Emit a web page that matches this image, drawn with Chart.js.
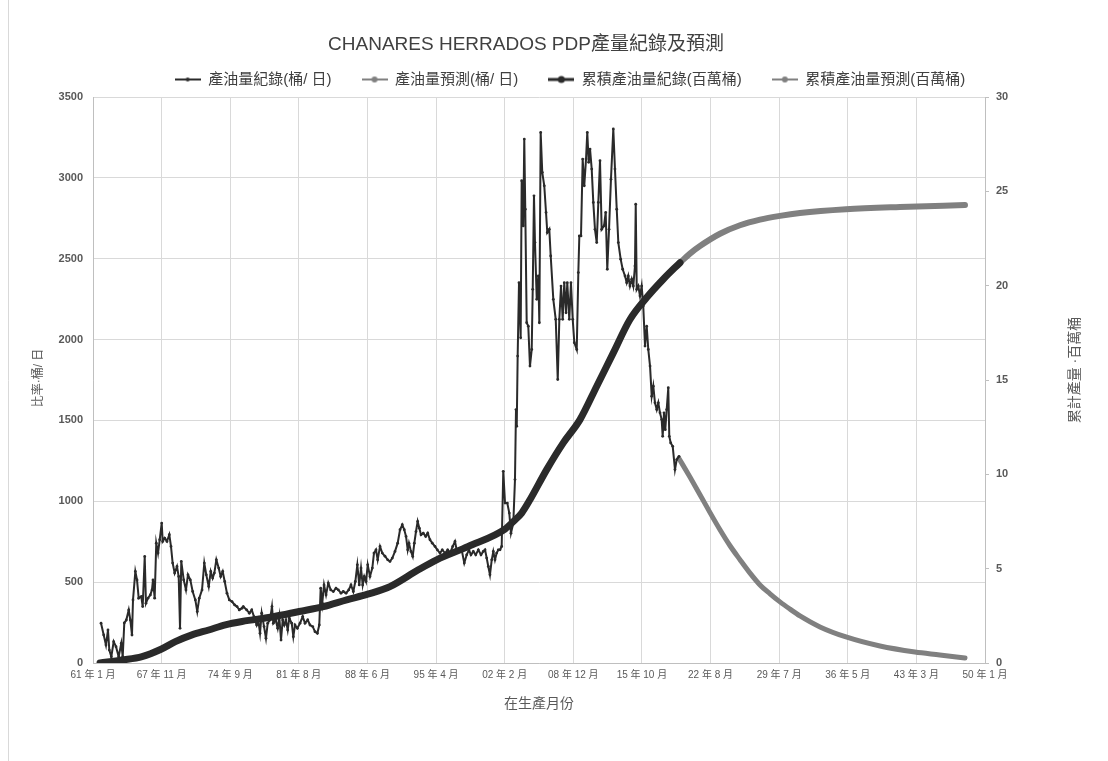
<!DOCTYPE html>
<html>
<head>
<meta charset="utf-8">
<script src="https://cdn.jsdelivr.net/npm/chart.js@4/dist/chart.umd.min.js"></script>
<style>
  html, body { margin: 0; padding: 0; background: #fff; }
  canvas { display: block; }
</style>
</head>
<body>
<canvas id="chart" width="1108" height="761"></canvas>
<script>
// Texts
const chartTitle = 'CHANARES HERRADOS PDP產量紀錄及預測';
const xAxisTitle = '在生產月份';
const yAxisTitle = '比率·桶/ 日';
const y2AxisTitle = '累計產量 ·百萬桶';
const seriesNames = ['產油量紀錄(桶/ 日)', '產油量預測(桶/ 日)', '累積產油量紀錄(百萬桶)', '累積產油量預測(百萬桶)'];

// X axis: months counted from January 1961, one label every 82 months
const xTickLabels = ['61 年 1 月', '67 年 11 月', '74 年 9 月', '81 年 8 月', '88 年 6 月', '95 年 4 月', '02 年 2 月',
  '08 年 12 月', '15 年 10 月', '22 年 8 月', '29 年 7 月', '36 年 5 月', '43 年 3 月', '50 年 1 月'];

// Oil rate history (bbl/day)
const rateHistMonths = [9.6,12.8,15.5,17.9,19.5,21.9,24.7,27.5,30.7,33.8,35.5,37.4,39.8,42.7,44.6,46.6,47.8,50.6,52.6,54.6,
  57.7,59.4,61.8,63.3,65.7,68.5,70.5,71.7,73.7,75.6,77.7,79.7,82.1,83.3,85.7,88.4,91.2,93.2,95.2,97.6,
  100.4,102.4,104.0,105.5,108.4,111.1,113.5,116.3,119.1,122.3,124.6,127.0,130.3,133.0,135.4,138.3,140.7,143.0,145.0,147.4,
  150.2,152.6,155.0,157.4,160.1,162.9,166.1,169.3,172.1,174.8,178.1,179.6,183.7,186.8,189.7,192.4,195.6,197.5,199.6,201.6,
  204.4,206.7,208.8,211.5,213.9,215.5,218.3,220.7,222.6,224.7,226.7,228.6,230.6,232.7,234.6,237.5,239.4,241.4,244.2,247.4,
  250.6,253.4,256.6,259.3,262.6,265.3,268.1,270.4,272.1,274.0,276.1,278.5,281.2,284.1,287.2,290.4,293.2,296.4,299.1,302.4,
  305.6,308.3,311.1,313.5,315.9,318.2,320.3,322.3,324.2,326.3,328.3,331.0,333.8,335.8,338.2,340.2,343.0,345.7,349.0,352.2,
  354.9,357.7,360.9,364.1,366.9,369.6,372.0,374.1,376.1,377.6,380.0,382.1,384.0,386.0,388.0,390.0,392.0,394.7,397.6,400.0,
  402.7,405.5,408.7,411.5,414.7,417.4,420.7,423.9,426.6,429.9,432.6,434.6,437.4,440.6,443.7,446.6,449.3,451.7,454.5,457.4,
  460.5,463.7,466.4,468.5,470.5,472.4,474.4,476.5,478.4,480.4,482.4,484.4,486.4,488.4,490.3,492.4,495.1,497.5,499.5,502.3,
  504.3,505.5,506.4,507.5,509.1,511.1,512.3,514.2,515.4,516.6,518.3,520.2,522.2,524.3,525.5,527.0,528.2,530.3,532.2,533.4,
  535.0,536.9,539.3,541.4,542.9,545.3,547.0,550.1,553.0,555.4,557.3,559.3,561.3,563.2,565.3,566.8,569.2,571.2,573.3,575.2,
  578.1,580.0,581.2,583.2,585.2,587.1,589.2,590.7,592.4,594.0,596.0,597.9,599.9,602.0,603.9,605.9,607.9,610.7,612.7,614.6,
  616.7,619.0,621.8,623.8,625.9,627.8,630.6,633.0,635.8,637.8,639.7,641.7,643.8,645.7,647.7,648.6,649.8,651.7,653.7,655.7,
  657.6,659.7,661.7,663.6,665.7,667.7,669.6,671.6,673.7,675.6,677.6,679.6,680.8,682.4,683.9,685.6,687.5,688.7,690.4,692.8,
  695.5,697.6,700.3];
const rateHistValues = [246,173,111,204,80,39,132,101,39,122,39,248,266,328,266,173,390,566,514,401,
  411,349,659,370,401,421,452,514,401,741,680,762,865,752,772,752,793,721,618,556,
  597,535,215,628,514,452,545,514,442,390,318,401,452,618,545,473,566,525,556,638,
  587,535,566,504,432,390,380,359,349,328,339,349,328,308,328,287,235,266,184,308,
  225,153,246,266,349,246,266,215,287,142,266,235,266,204,277,246,163,235,215,246,
  287,246,266,235,225,194,184,235,463,370,483,421,494,452,442,463,452,432,442,432,
  452,483,442,504,607,483,587,483,535,504,607,535,587,680,700,638,721,680,660,638,
  628,649,690,741,824,855,824,783,700,741,690,659,741,813,875,834,793,803,783,803,
  762,741,721,700,680,700,680,700,680,721,752,700,690,700,618,669,700,669,690,669,
  700,669,690,700,649,597,545,638,690,638,680,700,700,721,1185,989,989,927,803,865,
  1134,1567,1464,1898,2352,2011,2982,2703,3240,2806,2104,2083,1836,1939,2311,2889,2600,2249,2393,2104,
  3281,3034,2951,2786,2662,2682,2517,2249,2125,1753,2125,2331,2125,2352,2166,2352,2125,2352,2125,1981,
  1939,2414,2641,2641,3116,2951,3116,3281,3096,3178,3054,2848,2682,2600,2848,3106,2682,2703,2786,2435,
  2682,2992,3302,3054,2806,2600,2497,2435,2393,2352,2393,2331,2373,2331,2455,2837,2311,2331,2269,2331,
  2207,1960,2083,1939,1836,1650,1712,1609,1567,1609,1547,1505,1402,1547,1443,1567,1702,1402,1361,1340,
  1196,1258,1278];

// Oil rate forecast (bbl/day)
const rateFcstMonths = [700.3,713.4,725.4,737.4,749.3,761.3,773.2,785.2,797.1,809.1,821.0,833.0,844.9,868.8,899.9,940.5,982.3,1012.0,1042.1];
const rateFcstValues = [1265,1150,1041,930,824,725,639,556,483,428,378,333,291,223,161,105,68,50,31];

// Cumulative oil history (MMbbl)
const cumHistMonths = [8.4,34.7,58.6,81.3,98.4,118.3,138.3,158.1,178.1,215.5,246.5,275.2,303.2,328.3,354.9,388.8,410.7,448.5,
  492.4,502.3,512.3,522.2,542.2,562.0,582.0,602.0,621.8,641.7,661.7,681.5,701.5];
const cumHistValues = [0,0.16,0.34,0.73,1.13,1.49,1.75,2.02,2.2,2.45,2.73,2.99,3.35,3.65,4.05,4.94,5.47,6.18,
  7.1,7.5,7.95,8.65,10.25,11.67,12.9,14.67,16.44,18.21,19.37,20.34,21.22];

// Cumulative oil forecast (MMbbl)
const cumFcstMonths = [701.5,713.4,725.4,749.3,773.2,797.1,821.0,844.9,899.9,964.4,1042.1];
const cumFcstValues = [21.22,21.7,22.1,22.75,23.2,23.5,23.7,23.85,24.05,24.17,24.27];

const FONT = "'Liberation Sans', Arial, 'Noto Sans CJK TC', sans-serif";
Chart.defaults.font.family = FONT;

const toPoints = (xs, ys) => xs.map((x, i) => ({ x, y: ys[i] }));

const DARK = '#2a2a2a';
const GREY = '#808080';

// Line-with-marker swatches for the legend
function swatch(color, lineWidth, radius) {
  const c = document.createElement('canvas');
  c.width = 26; c.height = 10;
  const g = c.getContext('2d');
  g.strokeStyle = color; g.lineWidth = lineWidth;
  g.beginPath(); g.moveTo(0, 5); g.lineTo(26, 5); g.stroke();
  g.fillStyle = color;
  g.beginPath(); g.arc(13, 5, radius, 0, Math.PI * 2); g.fill();
  return c;
}
const legendSwatches = [swatch(DARK, 2, 2), swatch(GREY, 2, 3), swatch(DARK, 3, 3.5), swatch(GREY, 2, 3)];

// Title, axis titles and the left frame line
const chartText = {
  id: 'chartText',
  beforeDraw(chart) {
    const { ctx } = chart;
    ctx.save();
    ctx.fillStyle = '#fff';
    ctx.fillRect(0, 0, chart.width, chart.height);
    ctx.strokeStyle = '#d9d9d9';
    ctx.lineWidth = 1;
    ctx.beginPath(); ctx.moveTo(8.5, 0); ctx.lineTo(8.5, chart.height); ctx.stroke();
    ctx.restore();
  },
  afterDraw(chart) {
    const { ctx, chartArea: a } = chart;
    const midY = (a.top + a.bottom) / 2;
    ctx.save();
    ctx.textAlign = 'center';
    ctx.textBaseline = 'middle';
    ctx.fillStyle = '#404040';
    ctx.font = '19px ' + FONT;
    ctx.fillText(chartTitle, chart.width / 2 - 28, 45);
    ctx.fillStyle = '#595959';
    ctx.font = '14px ' + FONT;
    ctx.fillText(xAxisTitle, (a.left + a.right) / 2, a.bottom + 41);
    ctx.font = '12px ' + FONT;
    ctx.save();
    ctx.translate(a.left - 54, midY - 2);
    ctx.rotate(-Math.PI / 2);
    ctx.fillText(yAxisTitle, 0, 0);
    ctx.restore();
    ctx.font = '14px ' + FONT;
    ctx.save();
    ctx.translate(a.right + 90, midY - 10);
    ctx.rotate(-Math.PI / 2);
    ctx.fillText(y2AxisTitle, 0, 0);
    ctx.restore();
    ctx.restore();
  }
};

new Chart(document.getElementById('chart'), {
  type: 'line',
  data: {
    datasets: [
      {
        label: seriesNames[0], data: toPoints(rateHistMonths, rateHistValues), yAxisID: 'y',
        borderColor: DARK, backgroundColor: DARK, borderWidth: 2,
        pointRadius: 1.4, pointBorderWidth: 0, pointBackgroundColor: DARK, tension: 0
      },
      {
        label: seriesNames[1], data: toPoints(rateFcstMonths, rateFcstValues), yAxisID: 'y',
        borderColor: GREY, backgroundColor: GREY, borderWidth: 5, borderCapStyle: 'round',
        pointRadius: 0, cubicInterpolationMode: 'monotone'
      },
      {
        label: seriesNames[2], data: toPoints(cumHistMonths, cumHistValues), yAxisID: 'y2',
        borderColor: DARK, backgroundColor: DARK, borderWidth: 7, borderCapStyle: 'round',
        pointRadius: 0, cubicInterpolationMode: 'monotone'
      },
      {
        label: seriesNames[3], data: toPoints(cumFcstMonths, cumFcstValues), yAxisID: 'y2',
        borderColor: GREY, backgroundColor: GREY, borderWidth: 6, borderCapStyle: 'round',
        pointRadius: 0, cubicInterpolationMode: 'monotone'
      }
    ]
  },
  options: {
    responsive: false,
    animation: false,
    events: [],
    layout: { padding: { left: 32, right: 0, top: 42, bottom: 0 } },
    plugins: {
      title: { display: false },
      tooltip: { enabled: false },
      legend: {
        position: 'top',
        labels: {
          usePointStyle: true,
          pointStyleWidth: 26,
          padding: 30,
          color: '#404040',
          font: { size: 15 },
          generateLabels(chart) {
            const items = Chart.defaults.plugins.legend.labels.generateLabels(chart);
            items.forEach((item, i) => { item.pointStyle = legendSwatches[i]; });
            return items;
          }
        }
      }
    },
    scales: {
      x: {
        type: 'linear', min: 0, max: 1066,
        ticks: {
          stepSize: 82, autoSkip: false, maxRotation: 0, minRotation: 0, padding: 6,
          color: '#595959', font: { size: 10 },
          callback: (value, index) => xTickLabels[index]
        },
        grid: { color: '#d9d9d9', drawTicks: false },
        border: { color: '#bfbfbf' },
        afterFit(scale) { scale.height = 98; }
      },
      y: {
        position: 'left', min: 0, max: 3500,
        ticks: { stepSize: 500, padding: 10, color: '#595959', font: { size: 11, weight: 'bold' },
          callback: (value) => String(value) },
        grid: { color: '#d9d9d9', drawTicks: false },
        border: { color: '#bfbfbf' },
        afterFit(scale) { scale.width = 61; }
      },
      y2: {
        position: 'right', min: 0, max: 30,
        ticks: { stepSize: 5, padding: 7, color: '#595959', font: { size: 11, weight: 'bold' },
          callback: (value) => String(value) },
        grid: { drawOnChartArea: false, tickLength: 4, color: '#bfbfbf' },
        border: { color: '#bfbfbf' },
        afterFit(scale) { scale.width = 123; }
      }
    }
  },
  plugins: [chartText]
});
</script>
</body>
</html>
